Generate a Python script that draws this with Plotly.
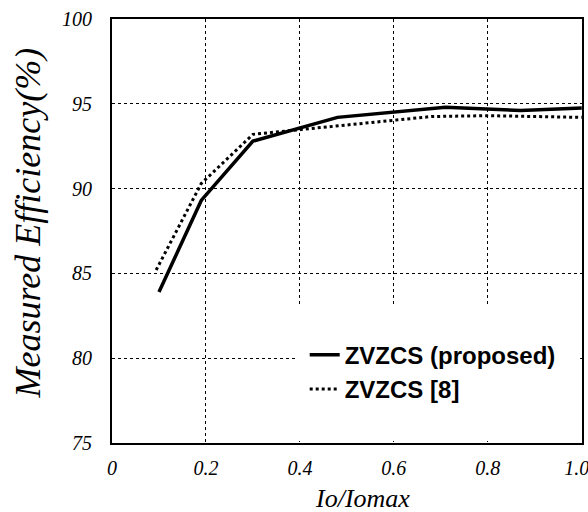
import plotly.graph_objects as go

# Data
x_proposed = [0.10, 0.19, 0.30, 0.48, 0.71, 0.87, 1.00]
y_proposed = [83.9, 89.3, 92.8, 94.2, 94.8, 94.6, 94.75]

x_ref8 = [0.094, 0.19, 0.30, 0.48, 0.68, 0.80, 1.00]
y_ref8 = [85.2, 90.3, 93.2, 93.7, 94.25, 94.3, 94.2]

x_ticks = [0, 0.2, 0.4, 0.6, 0.8, 1.0]
x_tick_text = ["0", "0.2", "0.4", "0.6", "0.8", "1.0"]
y_ticks = [75, 80, 85, 90, 95, 100]
y_tick_text = ["75", "80", "85", "90", "95", "100"]

serif = "Liberation Serif"

fig = go.Figure()
fig.add_trace(go.Scatter(
    x=x_proposed, y=y_proposed, mode="lines", name="ZVZCS (proposed)",
    line=dict(color="black", width=3.5)))
fig.add_trace(go.Scatter(
    x=x_ref8, y=y_ref8, mode="lines", name="ZVZCS [8]",
    line=dict(color="black", width=3, dash="dot")))

axis_common = dict(
    showline=True, linecolor="black", linewidth=2, mirror=True,
    showgrid=True, gridcolor="black", gridwidth=1, griddash="dot",
    zeroline=False, ticks="outside", tickcolor="rgba(0,0,0,0)",
    ticklabeloverflow="allow", automargin=False,
    tickfont=dict(family=serif, size=20, color="black"),
)

xt = ["<i>%s</i>" % t for t in x_tick_text]
xt[-1] = xt[-1] + "&nbsp;&nbsp;"

fig.update_xaxes(
    range=[0, 1.0005], tickmode="array", tickvals=x_ticks, ticktext=xt, ticklen=6,
    **axis_common)
fig.update_yaxes(
    range=[75, 100], tickmode="array", tickvals=y_ticks,
    ticktext=["<i>%s</i>" % t for t in y_tick_text], ticklen=14,
    **axis_common)

# white area behind the legend hides the grid there
fig.add_shape(type="rect", xref="paper", yref="paper", x0=0.393, x1=0.996, y0=0.005, y1=0.325,
              fillcolor="white", line=dict(width=0), layer="above")

fig.add_annotation(text="<i>Io/Iomax</i>", xref="paper", yref="paper", x=0.532, y=-0.132,
                   xanchor="center", yanchor="middle", showarrow=False,
                   font=dict(family=serif, size=26, color="black"))
fig.add_annotation(text="<i>Measured Efficiency(%)</i>", xref="paper", yref="paper",
                   x=-0.179, y=0.52, textangle=-90, xanchor="center", yanchor="middle",
                   showarrow=False, font=dict(family=serif, size=36, color="black"))

fig.update_layout(
    width=588, height=512,
    margin=dict(l=112, r=6, t=19, b=69, autoexpand=False),
    paper_bgcolor="white", plot_bgcolor="white",
    showlegend=True,
    legend=dict(
        x=0.41, y=0.26, xanchor="left", yanchor="top",
        bgcolor="rgba(0,0,0,0)", borderwidth=0,
        font=dict(family="Liberation Sans", size=24, color="black", weight="bold"),
        itemwidth=30, tracegroupgap=0,
    ),
)

fig.write_html("out.html")
